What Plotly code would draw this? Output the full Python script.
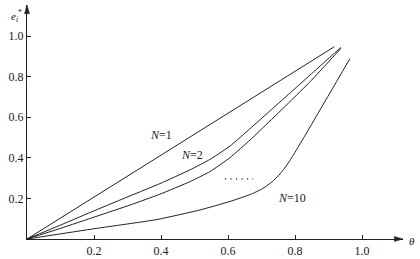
import plotly.graph_objects as go

# ---- data ----
theta_n1 = [0.0, 0.917]
e_n1 = [0.0, 0.947]

theta_n2 = [0.0, 0.099, 0.206, 0.307, 0.397, 0.487, 0.546, 0.606, 0.666, 0.725, 0.785, 0.845, 0.937]
e_n2 = [0.0, 0.068, 0.143, 0.212, 0.273, 0.341, 0.392, 0.458, 0.544, 0.631, 0.719, 0.808, 0.944]

theta_n3 = [0.0, 0.099, 0.206, 0.307, 0.397, 0.487, 0.546, 0.606, 0.666, 0.725, 0.785, 0.845, 0.937]
e_n3 = [0.0, 0.052, 0.111, 0.167, 0.221, 0.283, 0.332, 0.401, 0.488, 0.581, 0.677, 0.775, 0.939]

theta_n10 = [0.0, 0.206, 0.388, 0.516, 0.606, 0.666, 0.701, 0.731, 0.755, 0.776, 0.797, 0.836, 0.904, 0.964]
e_n10 = [0.0, 0.052, 0.096, 0.143, 0.185, 0.219, 0.246, 0.281, 0.320, 0.365, 0.419, 0.527, 0.719, 0.889]

dots_theta = [0.591, 0.675]
dots_e = [0.296, 0.296]

x_ticks = [0.2, 0.4, 0.6, 0.8, 1.0]
x_ticktext = ["0.2", "0.4", "0.6", "0.8", "1.0"]
y_ticks = [0.2, 0.4, 0.6, 0.8, 1.0]
y_ticktext = ["0.2", "0.4", "0.6", "0.8", "1.0"]

labels = [("<i>N</i>=1", 0.400, 0.512), ("<i>N</i>=2", 0.493, 0.414), ("<i>N</i>=10", 0.791, 0.202)]

XMAX = 1.1224
YMAX = 1.153
INK = "#222222"
FONT = "Liberation Serif, Times New Roman, serif"

fig = go.Figure()
line = dict(color=INK, width=1, shape="spline", smoothing=0.5)
for xs, ys in [(theta_n1, e_n1), (theta_n2, e_n2), (theta_n3, e_n3), (theta_n10, e_n10)]:
    fig.add_trace(go.Scatter(x=xs, y=ys, mode="lines", line=line, showlegend=False, hoverinfo="skip"))

fig.add_trace(go.Scatter(x=dots_theta, y=dots_e, mode="lines",
                         line=dict(color=INK, width=1.2, dash="1.2px,4.3px"),
                         showlegend=False, hoverinfo="skip"))

for txt, x, y in labels:
    fig.add_annotation(x=x, y=y, text=txt, showarrow=False,
                       font=dict(family=FONT, size=12, color=INK))

# axis arrowheads (filled triangles at the ends of the axis lines, paper coords)
fig.add_shape(type="path", xref="paper", yref="paper",
              path="M 1 0 L 0.977 0.0107 L 0.977 -0.0107 Z",
              fillcolor=INK, line=dict(color=INK, width=0.5), layer="above")
fig.add_shape(type="path", xref="paper", yref="paper",
              path="M 0 1 L 0.0067 0.963 L -0.0067 0.963 Z",
              fillcolor=INK, line=dict(color=INK, width=0.5), layer="above")

# axis titles (paper coordinates)
fig.add_annotation(x=1.024, y=-0.008, xref="paper", yref="paper", text="<i>θ</i>", showarrow=False,
                   xanchor="center", yanchor="middle",
                   font=dict(family=FONT, size=11, color=INK))
fig.add_annotation(x=-0.027, y=0.955, xref="paper", yref="paper",
                   text="<i>e</i><sub><i>i</i></sub><sup>*</sup>", showarrow=False,
                   xanchor="center", yanchor="middle",
                   font=dict(family=FONT, size=11, color=INK))

fig.update_xaxes(range=[0, XMAX], showgrid=False, zeroline=False, showline=True, linecolor=INK,
                 linewidth=1, ticks="inside", ticklen=4, tickcolor=INK, tickwidth=1,
                 tickvals=x_ticks, ticktext=x_ticktext, ticklabelstandoff=1, automargin=False,
                 tickfont=dict(family=FONT, size=12, color=INK))
fig.update_yaxes(range=[0, YMAX], showgrid=False, zeroline=False, showline=True, linecolor=INK,
                 linewidth=1, ticks="inside", ticklen=4, tickcolor=INK, tickwidth=1,
                 tickvals=y_ticks, ticktext=y_ticktext, automargin=False,
                 tickfont=dict(family=FONT, size=12, color=INK))

fig.update_layout(width=420, height=259, margin=dict(l=27, r=17, t=5, b=20, autoexpand=False),
                  plot_bgcolor="white", paper_bgcolor="white")

fig.write_html("out.html")
